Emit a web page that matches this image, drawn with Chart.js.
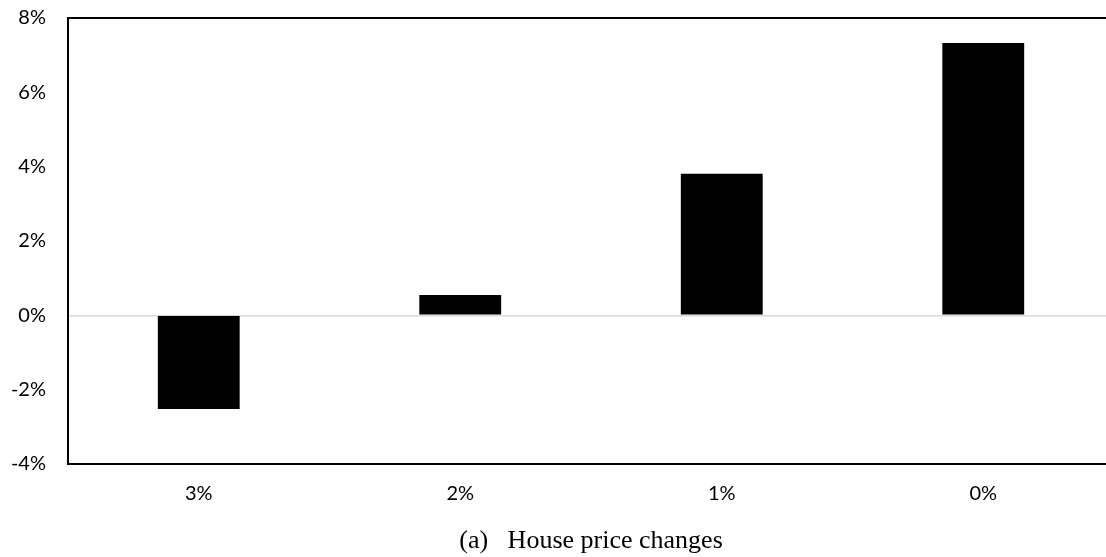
<!DOCTYPE html>
<html>
<head>
<meta charset="utf-8">
<script src="https://cdn.jsdelivr.net/npm/chart.js@4"></script>
<style>
  html, body { margin: 0; padding: 0; background: #fff; overflow: hidden; }
  .wrap { width: 1114px; height: 557px; position: relative; }
</style>
</head>
<body>
<div class="wrap"><canvas id="myChart"></canvas></div>
<script>
// data
const categories = ['3%', '2%', '1%', '0%'];
const priceChange = [-2.52, 0.55, 3.81, 7.33];
const yTicks = [-4, -2, 0, 2, 4, 6, 8];
const caption = '(a)   House price changes';

const tickFont = { family: 'Lato, "Open Sans", sans-serif', size: 20 };

let chart = new Chart(document.getElementById('myChart'), {
  type: 'bar',
  data: {
    labels: categories,
    datasets: [
      {
        data: priceChange,
        backgroundColor: '#000',
        borderWidth: 0,
        barPercentage: 0.313,
        categoryPercentage: 1,
      },
    ],
  },
  options: {
    responsive: true,
    maintainAspectRatio: false,
    animation: false,
    layout: { padding: { top: 18, right: 0, bottom: 0, left: 0 } },
    plugins: {
      legend: { display: false },
      tooltip: { enabled: false },
    },
    scales: {
      x: {
        grid: { display: false, drawTicks: false },
        border: { display: true, color: '#000', width: 2 },
        ticks: { color: '#000', font: tickFont, padding: 18 },
        title: {
          display: true,
          text: caption,
          color: '#000',
          font: { family: '"Liberation Serif", "Times New Roman", serif', size: 26 },
          padding: { top: 10, bottom: 0 },
        },
        afterFit: (scale) => {
          scale.height = 93;
        },
      },
      y: {
        min: yTicks[0],
        max: yTicks[yTicks.length - 1],
        afterBuildTicks: (scale) => {
          scale.ticks = yTicks.map((v) => ({ value: v }));
        },
        grid: {
          drawTicks: false,
          color: (ctx) => {
            if (!ctx.tick) return 'rgba(0,0,0,0)';
            if (ctx.tick.value === 0) return '#d9d9d9';
            if (ctx.tick.value === 8) return '#000';
            return 'rgba(0,0,0,0)';
          },
          lineWidth: (ctx) => (ctx.tick && ctx.tick.value === 0 ? 1.5 : 2),
        },
        border: { display: true, color: '#000', width: 2 },
        ticks: {
          color: '#000',
          font: tickFont,
          padding: 22,
          callback: (v) => `${v}%`,
        },
        afterFit: (scale) => {
          scale.width = 68;
          scale.paddingTop = 0;
          scale.paddingBottom = 0;
        },
      },
    },
  },
});
</script>
</body>
</html>
